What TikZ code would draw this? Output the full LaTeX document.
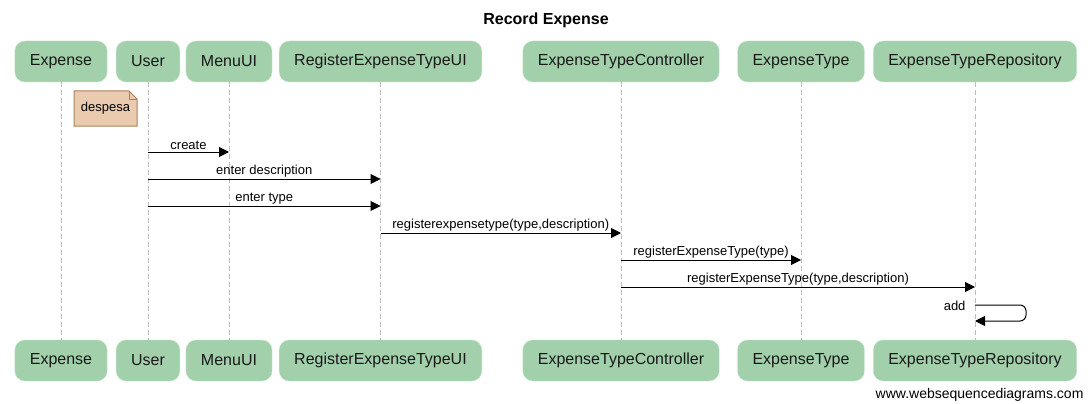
\documentclass[tikz,border=0pt]{standalone}
\usepackage{fontspec}
\setmainfont{Liberation Sans}
\usetikzlibrary{arrows.meta}
\definecolor{actorgreen}{RGB}{161,208,171}
\definecolor{actorrim}{RGB}{200,228,206}
\definecolor{notefill}{RGB}{234,203,176}
\definecolor{noterim}{RGB}{170,130,84}
\definecolor{lifegray}{RGB}{190,190,190}
\tikzset{
    %Define standard arrow tip
    >={Triangle[length=10pt,width=10pt]},
    actor/.style={draw=actorrim, fill=actorgreen, rounded corners=10pt,
        minimum height=41pt, inner xsep=15pt, text=black!90,
        font=\fontsize{16}{19}\selectfont},
    lifeline/.style={lifegray, line width=1pt, dash pattern=on 5pt off 3pt},
    msg/.style={->, line width=1pt},
    msgfont/.style={font=\fontsize{13}{15}\selectfont},
    lbl/.style={msgfont, above, inner sep=1.5pt},
    notebox/.style={draw=noterim, fill=notefill, line width=1pt}
}
\def\actor#1#2#3{
    \node[actor] (#1top) at (#2,61.5) {#3};
    \node[actor] (#1bot) at (#2,360.5) {#3};
    \draw[lifeline] (#1top) -- (#1bot);
}

\begin{document}
\begin{tikzpicture}[x=1pt,y=-1pt]
    \useasboundingbox (0,0) rectangle (1090,404);

    \node[font=\bfseries\fontsize{16}{19}\selectfont] (title) at (546,20) {Record Expense};

    \actor{expense}{61}{Expense}
    \actor{user}{148}{User}
    \actor{menu}{229}{MenuUI}
    \actor{regui}{380.5}{RegisterExpenseTypeUI}
    \actor{ctrl}{621}{ExpenseTypeController}
    \actor{etype}{801}{ExpenseType}
    \actor{repo}{975}{ExpenseTypeRepository}

    % note over Expense/User
    \draw[notebox] (74,91) -- (129,91) -- (137,99) -- (137,126) -- (74,126) -- cycle;
    \draw[notebox, fill=none] (129,91) -- (129,99) -- (137,99);
    \node[msgfont] (despesa) at (105.5,108.5) {despesa};

    \draw[msg] (usertop |- 0,152) -- node[lbl] {create} (menutop |- 0,152);
    \draw[msg] (usertop |- 0,179) -- node[lbl] {enter description} (reguitop |- 0,179);
    \draw[msg] (usertop |- 0,206) -- node[lbl] {enter type} (reguitop |- 0,206);
    \draw[msg] (reguitop |- 0,233) -- node[lbl] {registerexpensetype(type,description)} (ctrltop |- 0,233);
    \draw[msg] (ctrltop |- 0,260) -- node[lbl] {registerExpenseType(type)} (etypetop |- 0,260);
    \draw[msg] (ctrltop |- 0,287) -- node[lbl] {registerExpenseType(type,description)} (repotop |- 0,287);
    \draw[msg, rounded corners=6pt] (repotop |- 0,305) -- ++(51,0) -- ++(0,16) -- (repotop |- 0,321);
    \node[msgfont, anchor=east] (add) at (969,306) {add};

    \node[font=\fontsize{14}{16}\selectfont, anchor=east] (wsd) at (1087,395) {www.websequencediagrams.com};
\end{tikzpicture}
\end{document}
